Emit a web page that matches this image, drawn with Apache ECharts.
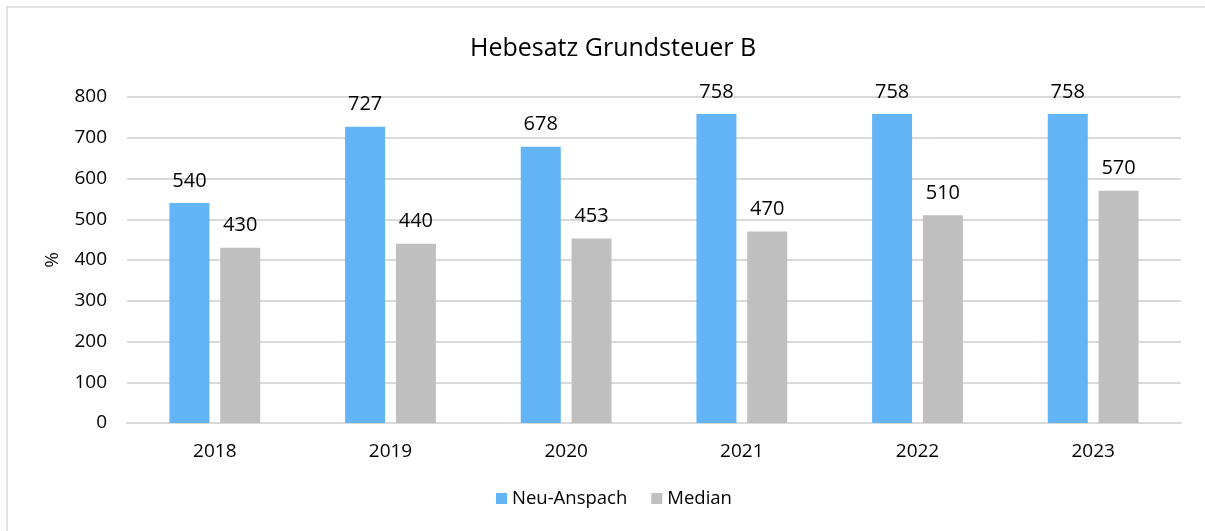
<!DOCTYPE html>
<html>
<head>
<meta charset="utf-8">
<title>Hebesatz Grundsteuer B</title>
<script src="https://cdn.jsdelivr.net/npm/echarts@6/dist/echarts.min.js"></script>
<style>
  html, body { margin: 0; padding: 0; background: #fff; }
  #chart { width: 1205px; height: 531px; }
</style>
</head>
<body>
<div id="chart"></div>
<script>
  // Daten
  var years = ['2018', '2019', '2020', '2021', '2022', '2023'];
  var neuAnspach = [540, 727, 678, 758, 758, 758];
  var median = [430, 440, 453, 470, 510, 570];
  var yTicks = [0, 100, 200, 300, 400, 500, 600, 700, 800];

  var font = '"Open Sans", Lato, sans-serif';
  var chart = echarts.init(document.getElementById('chart'));

  chart.setOption({
    animation: false,
    textStyle: { fontFamily: font },
    title: {
      text: 'Hebesatz Grundsteuer B',
      left: 465,
      top: 31,
      textStyle: { fontFamily: font, fontSize: 25, fontWeight: 'normal', color: '#000' }
    },
    // Rahmen wie im Original (oben und links sichtbar)
    graphic: [{
      type: 'rect',
      shape: { x: 7, y: 7, width: 1210, height: 540 },
      style: { fill: 'none', stroke: '#d9d9d9', lineWidth: 1.5 },
      silent: true
    }],
    legend: {
      bottom: 18,
      left: 491,
      itemWidth: 11,
      itemHeight: 11,
      itemGap: 24,
      icon: 'rect',
      textStyle: { fontFamily: font, fontSize: 18.5, color: '#000' },
      data: ['Neu-Anspach', 'Median']
    },
    grid: {
      left: 127,
      right: 24,
      top: 97,
      bottom: 108
    },
    xAxis: {
      type: 'category',
      data: years,
      axisTick: { show: false },
      axisLine: { lineStyle: { color: '#d9d9d9', width: 2 } },
      axisLabel: { fontFamily: font, fontSize: 19, color: '#000', margin: 19 }
    },
    yAxis: {
      type: 'value',
      min: yTicks[0],
      max: yTicks[yTicks.length - 1],
      interval: 100,
      name: '%',
      nameLocation: 'middle',
      nameGap: 65,
      nameRotate: 90,
      nameTextStyle: { fontFamily: font, fontSize: 19, color: '#000' },
      axisLabel: { fontFamily: font, fontSize: 19, color: '#000', margin: 20 },
      splitLine: { lineStyle: { color: '#d9d9d9', width: 2 } },
      axisLine: { show: false },
      axisTick: { show: false }
    },
    series: [
      {
        name: 'Neu-Anspach',
        type: 'bar',
        data: neuAnspach,
        barWidth: 40,
        barGap: '27%',
        itemStyle: { color: '#63b4f6' },
        label: { show: true, position: 'top', distance: 12, fontFamily: font, fontSize: 20, color: '#000' }
      },
      {
        name: 'Median',
        type: 'bar',
        data: median,
        barWidth: 40,
        itemStyle: { color: '#bfbfbf' },
        label: { show: true, position: 'top', distance: 12, fontFamily: font, fontSize: 20, color: '#000' }
      }
    ]
  });
</script>
</body>
</html>
